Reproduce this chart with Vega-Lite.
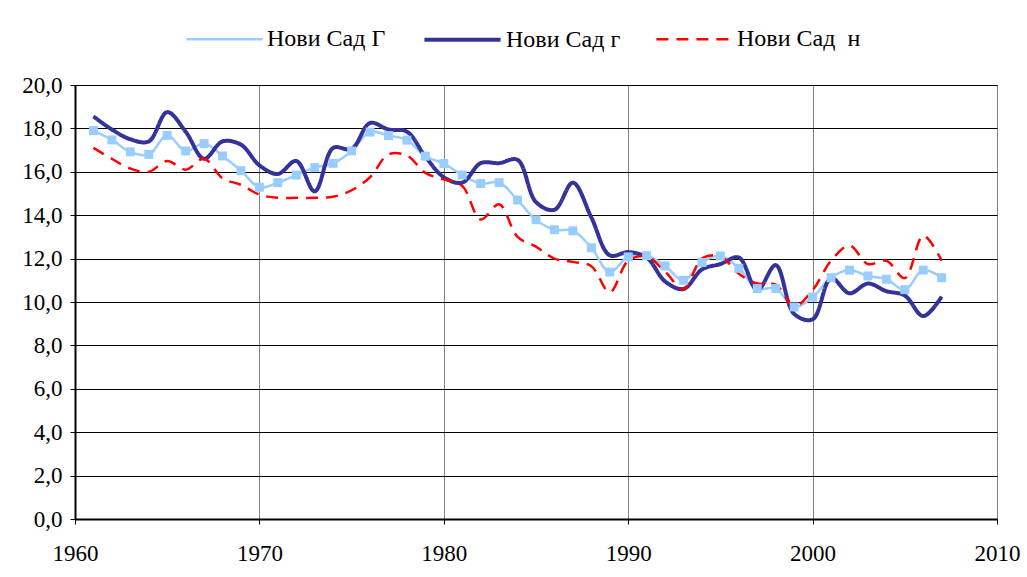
{
  "$schema": "https://vega.github.io/schema/vega-lite/v6.json",
  "width": 922,
  "height": 434,
  "autosize": {"type": "none"},
  "padding": {"left": 75, "top": 85, "right": 30, "bottom": 58},
  "background": "white",
  "config": {
    "view": {"stroke": "black", "strokeWidth": 1},
    "axis": {
      "labelFont": "Liberation Serif",
      "labelFontSize": 23,
      "labelColor": "black",
      "domainColor": "black",
      "tickColor": "black",
      "title": null
    },
    "legend": {
      "labelFont": "Liberation Serif",
      "labelFontSize": 24,
      "labelColor": "black"
    }
  },
  "datasets": {
    "d": [
      {"year": 1961, "series": "Нови Сад Г", "value": 17.9},
      {"year": 1962, "series": "Нови Сад Г", "value": 17.47},
      {"year": 1963, "series": "Нови Сад Г", "value": 16.92},
      {"year": 1964, "series": "Нови Сад Г", "value": 16.8},
      {"year": 1965, "series": "Нови Сад Г", "value": 17.68},
      {"year": 1966, "series": "Нови Сад Г", "value": 16.96},
      {"year": 1967, "series": "Нови Сад Г", "value": 17.3},
      {"year": 1968, "series": "Нови Сад Г", "value": 16.73},
      {"year": 1969, "series": "Нови Сад Г", "value": 16.05},
      {"year": 1970, "series": "Нови Сад Г", "value": 15.29},
      {"year": 1971, "series": "Нови Сад Г", "value": 15.5},
      {"year": 1972, "series": "Нови Сад Г", "value": 15.85},
      {"year": 1973, "series": "Нови Сад Г", "value": 16.19},
      {"year": 1974, "series": "Нови Сад Г", "value": 16.39},
      {"year": 1975, "series": "Нови Сад Г", "value": 16.96},
      {"year": 1976, "series": "Нови Сад Г", "value": 17.83},
      {"year": 1977, "series": "Нови Сад Г", "value": 17.67},
      {"year": 1978, "series": "Нови Сад Г", "value": 17.46},
      {"year": 1979, "series": "Нови Сад Г", "value": 16.72},
      {"year": 1980, "series": "Нови Сад Г", "value": 16.38},
      {"year": 1981, "series": "Нови Сад Г", "value": 15.85},
      {"year": 1982, "series": "Нови Сад Г", "value": 15.46},
      {"year": 1983, "series": "Нови Сад Г", "value": 15.5},
      {"year": 1984, "series": "Нови Сад Г", "value": 14.7},
      {"year": 1985, "series": "Нови Сад Г", "value": 13.79},
      {"year": 1986, "series": "Нови Сад Г", "value": 13.33},
      {"year": 1987, "series": "Нови Сад Г", "value": 13.28},
      {"year": 1988, "series": "Нови Сад Г", "value": 12.5},
      {"year": 1989, "series": "Нови Сад Г", "value": 11.38},
      {"year": 1990, "series": "Нови Сад Г", "value": 12.08},
      {"year": 1991, "series": "Нови Сад Г", "value": 12.14},
      {"year": 1992, "series": "Нови Сад Г", "value": 11.66},
      {"year": 1993, "series": "Нови Сад Г", "value": 11.0},
      {"year": 1994, "series": "Нови Сад Г", "value": 11.82},
      {"year": 1995, "series": "Нови Сад Г", "value": 12.12},
      {"year": 1996, "series": "Нови Сад Г", "value": 11.55},
      {"year": 1997, "series": "Нови Сад Г", "value": 10.62},
      {"year": 1998, "series": "Нови Сад Г", "value": 10.62},
      {"year": 1999, "series": "Нови Сад Г", "value": 9.77},
      {"year": 2000, "series": "Нови Сад Г", "value": 10.23},
      {"year": 2001, "series": "Нови Сад Г", "value": 11.12},
      {"year": 2002, "series": "Нови Сад Г", "value": 11.47},
      {"year": 2003, "series": "Нови Сад Г", "value": 11.2},
      {"year": 2004, "series": "Нови Сад Г", "value": 11.05},
      {"year": 2005, "series": "Нови Сад Г", "value": 10.57},
      {"year": 2006, "series": "Нови Сад Г", "value": 11.47},
      {"year": 2007, "series": "Нови Сад Г", "value": 11.12},

      {"year": 1961, "series": "Нови Сад г", "value": 18.55},
      {"year": 1962, "series": "Нови Сад г", "value": 17.95},
      {"year": 1963, "series": "Нови Сад г", "value": 17.5},
      {"year": 1964, "series": "Нови Сад г", "value": 17.4},
      {"year": 1965, "series": "Нови Сад г", "value": 18.75},
      {"year": 1966, "series": "Нови Сад г", "value": 17.85},
      {"year": 1967, "series": "Нови Сад г", "value": 16.6},
      {"year": 1968, "series": "Нови Сад г", "value": 17.4},
      {"year": 1969, "series": "Нови Сад г", "value": 17.25},
      {"year": 1970, "series": "Нови Сад г", "value": 16.3},
      {"year": 1971, "series": "Нови Сад г", "value": 15.9},
      {"year": 1972, "series": "Нови Сад г", "value": 16.5},
      {"year": 1973, "series": "Нови Сад г", "value": 15.1},
      {"year": 1974, "series": "Нови Сад г", "value": 17.1},
      {"year": 1975, "series": "Нови Сад г", "value": 17.05},
      {"year": 1976, "series": "Нови Сад г", "value": 18.25},
      {"year": 1977, "series": "Нови Сад г", "value": 17.95},
      {"year": 1978, "series": "Нови Сад г", "value": 17.85},
      {"year": 1979, "series": "Нови Сад г", "value": 16.7},
      {"year": 1980, "series": "Нови Сад г", "value": 15.75},
      {"year": 1981, "series": "Нови Сад г", "value": 15.5},
      {"year": 1982, "series": "Нови Сад г", "value": 16.4},
      {"year": 1983, "series": "Нови Сад г", "value": 16.4},
      {"year": 1984, "series": "Нови Сад г", "value": 16.55},
      {"year": 1985, "series": "Нови Сад г", "value": 14.6},
      {"year": 1986, "series": "Нови Сад г", "value": 14.25},
      {"year": 1987, "series": "Нови Сад г", "value": 15.5},
      {"year": 1988, "series": "Нови Сад г", "value": 13.9},
      {"year": 1989, "series": "Нови Сад г", "value": 12.15},
      {"year": 1990, "series": "Нови Сад г", "value": 12.3},
      {"year": 1991, "series": "Нови Сад г", "value": 12.05},
      {"year": 1992, "series": "Нови Сад г", "value": 10.95},
      {"year": 1993, "series": "Нови Сад г", "value": 10.6},
      {"year": 1994, "series": "Нови Сад г", "value": 11.5},
      {"year": 1995, "series": "Нови Сад г", "value": 11.75},
      {"year": 1996, "series": "Нови Сад г", "value": 12.05},
      {"year": 1997, "series": "Нови Сад г", "value": 10.55},
      {"year": 1998, "series": "Нови Сад г", "value": 11.7},
      {"year": 1999, "series": "Нови Сад г", "value": 9.45},
      {"year": 2000, "series": "Нови Сад г", "value": 9.2},
      {"year": 2001, "series": "Нови Сад г", "value": 11.1},
      {"year": 2002, "series": "Нови Сад г", "value": 10.4},
      {"year": 2003, "series": "Нови Сад г", "value": 10.85},
      {"year": 2004, "series": "Нови Сад г", "value": 10.5},
      {"year": 2005, "series": "Нови Сад г", "value": 10.3},
      {"year": 2006, "series": "Нови Сад г", "value": 9.35},
      {"year": 2007, "series": "Нови Сад г", "value": 10.25},

      {"year": 1961, "series": "Нови Сад \u00a0н", "value": 17.1},
      {"year": 1962, "series": "Нови Сад \u00a0н", "value": 16.6},
      {"year": 1963, "series": "Нови Сад \u00a0н", "value": 16.15},
      {"year": 1964, "series": "Нови Сад \u00a0н", "value": 16.0},
      {"year": 1965, "series": "Нови Сад \u00a0н", "value": 16.5},
      {"year": 1966, "series": "Нови Сад \u00a0н", "value": 16.1},
      {"year": 1967, "series": "Нови Сад \u00a0н", "value": 16.6},
      {"year": 1968, "series": "Нови Сад \u00a0н", "value": 15.7},
      {"year": 1969, "series": "Нови Сад \u00a0н", "value": 15.4},
      {"year": 1970, "series": "Нови Сад \u00a0н", "value": 14.95},
      {"year": 1971, "series": "Нови Сад \u00a0н", "value": 14.8},
      {"year": 1972, "series": "Нови Сад \u00a0н", "value": 14.8},
      {"year": 1973, "series": "Нови Сад \u00a0н", "value": 14.8},
      {"year": 1974, "series": "Нови Сад \u00a0н", "value": 14.85},
      {"year": 1975, "series": "Нови Сад \u00a0н", "value": 15.15},
      {"year": 1976, "series": "Нови Сад \u00a0н", "value": 15.75},
      {"year": 1977, "series": "Нови Сад \u00a0н", "value": 16.8},
      {"year": 1978, "series": "Нови Сад \u00a0н", "value": 16.75},
      {"year": 1979, "series": "Нови Сад \u00a0н", "value": 15.95},
      {"year": 1980, "series": "Нови Сад \u00a0н", "value": 15.65},
      {"year": 1981, "series": "Нови Сад \u00a0н", "value": 15.35},
      {"year": 1982, "series": "Нови Сад \u00a0н", "value": 13.8},
      {"year": 1983, "series": "Нови Сад \u00a0н", "value": 14.5},
      {"year": 1984, "series": "Нови Сад \u00a0н", "value": 13.0},
      {"year": 1985, "series": "Нови Сад \u00a0н", "value": 12.55},
      {"year": 1986, "series": "Нови Сад \u00a0н", "value": 12.0},
      {"year": 1987, "series": "Нови Сад \u00a0н", "value": 11.85},
      {"year": 1988, "series": "Нови Сад \u00a0н", "value": 11.65},
      {"year": 1989, "series": "Нови Сад \u00a0н", "value": 10.45},
      {"year": 1990, "series": "Нови Сад \u00a0н", "value": 11.9},
      {"year": 1991, "series": "Нови Сад \u00a0н", "value": 12.1},
      {"year": 1992, "series": "Нови Сад \u00a0н", "value": 11.4},
      {"year": 1993, "series": "Нови Сад \u00a0н", "value": 10.6},
      {"year": 1994, "series": "Нови Сад \u00a0н", "value": 12.0},
      {"year": 1995, "series": "Нови Сад \u00a0н", "value": 12.1},
      {"year": 1996, "series": "Нови Сад \u00a0н", "value": 11.3},
      {"year": 1997, "series": "Нови Сад \u00a0н", "value": 10.85},
      {"year": 1998, "series": "Нови Сад \u00a0н", "value": 10.8},
      {"year": 1999, "series": "Нови Сад \u00a0н", "value": 9.8},
      {"year": 2000, "series": "Нови Сад \u00a0н", "value": 10.55},
      {"year": 2001, "series": "Нови Сад \u00a0н", "value": 11.9},
      {"year": 2002, "series": "Нови Сад \u00a0н", "value": 12.6},
      {"year": 2003, "series": "Нови Сад \u00a0н", "value": 11.75},
      {"year": 2004, "series": "Нови Сад \u00a0н", "value": 11.9},
      {"year": 2005, "series": "Нови Сад \u00a0н", "value": 11.1},
      {"year": 2006, "series": "Нови Сад \u00a0н", "value": 13.05},
      {"year": 2007, "series": "Нови Сад \u00a0н", "value": 11.9}
    ]
  },
  "data": {"name": "d"},
  "encoding": {
    "x": {
      "field": "year",
      "type": "quantitative",
      "scale": {"domain": [1960, 2010], "nice": false, "zero": false},
      "axis": {
        "values": [1960, 1970, 1980, 1990, 2000, 2010],
        "format": "d",
        "grid": true,
        "gridColor": "#808080",
        "gridWidth": 1,
        "domainWidth": 2,
        "tickSize": 5,
        "labelPadding": 18,
        "labelFlush": false
      }
    },
    "y": {
      "field": "value",
      "type": "quantitative",
      "scale": {"domain": [0, 20], "nice": false},
      "axis": {
        "values": [0, 2, 4, 6, 8, 10, 12, 14, 16, 18, 20],
        "labelExpr": "replace(format(datum.value, '.1f'), '.', ',')",
        "grid": true,
        "gridColor": "black",
        "gridWidth": 1,
        "domainWidth": 2,
        "tickSize": 5,
        "labelPadding": 8
      }
    }
  },
  "layer": [
    {
      "mark": {"type": "line", "interpolate": "catmull-rom", "strokeCap": "butt"},
      "encoding": {
        "color": {
          "field": "series",
          "type": "nominal",
          "scale": {
            "domain": ["Нови Сад Г", "Нови Сад г", "Нови Сад \u00a0н"],
            "range": ["#99CCFF", "#333399", "#FF0000"]
          },
          "legend": {
            "title": null,
            "orient": "none",
            "legendX": 110,
            "legendY": -86,
            "direction": "horizontal",
            "symbolType": "stroke",
            "symbolSize": 5800,
            "columnPadding": 30,
            "labelOffset": 3,
            "labelFont": "Liberation Serif",
            "labelFontSize": 24
          }
        },
        "strokeDash": {
          "field": "series",
          "type": "nominal",
          "scale": {
            "domain": ["Нови Сад Г", "Нови Сад г", "Нови Сад \u00a0н"],
            "range": [[1, 0], [1, 0], [12, 8]]
          },
          "legend": {"title": null}
        },
        "strokeWidth": {
          "field": "series",
          "type": "nominal",
          "scale": {
            "type": "ordinal",
            "domain": ["Нови Сад Г", "Нови Сад г", "Нови Сад \u00a0н"],
            "range": [2.5, 4, 2.5]
          },
          "legend": {"title": null}
        }
      }
    },
    {
      "transform": [{"filter": "datum.series === 'Нови Сад Г'"}],
      "mark": {"type": "point", "shape": "square", "filled": true, "size": 80, "color": "#99CCFF", "opacity": 1}
    }
  ]
}
